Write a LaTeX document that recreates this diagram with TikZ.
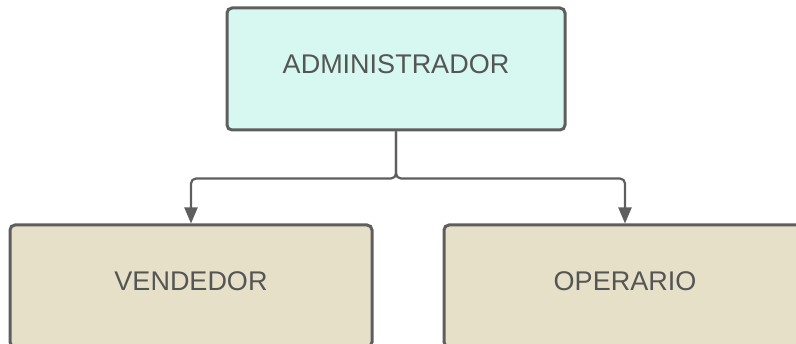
\documentclass[tikz,border=0pt]{standalone}
\usepackage{fontspec}
\setmainfont{Liberation Sans}
\usetikzlibrary{positioning,arrows.meta}

\definecolor{mint}{HTML}{D7F8F1}
\definecolor{sand}{HTML}{E6E0C8}
\definecolor{edge}{HTML}{5E5E5E}
\definecolor{ink}{HTML}{555555}

\begin{document}
\begin{tikzpicture}[x=1pt, y=-1pt]
	\clip (0,0) rectangle (796,344);
	\tikzstyle{every node}=[align=center, inner sep=0pt]
	\tikzstyle{role}=[draw=edge, line width=3pt, rounded corners=5pt, minimum width=338pt, minimum height=122pt, text=ink, font=\fontsize{27}{32}\selectfont, text height=19pt, text depth=10pt]
	\tikzstyle{link}=[draw=edge, line width=2.2pt, rounded corners=5pt, -{Triangle[length=16pt, width=13pt]}]

	\node[role, fill=mint] (admin) at (396, 69) {ADMINISTRADOR};
	\node[role, fill=sand, minimum width=362pt] (vend) at (191, 286) {VENDEDOR};
	\node[role, fill=sand, minimum width=362pt] (oper) at (625, 286) {OPERARIO};

	\draw[link] (admin.south) -- ++(0,47) -| (vend.north);
	\draw[link] (admin.south) -- ++(0,47) -| (oper.north);
\end{tikzpicture}
\end{document}
